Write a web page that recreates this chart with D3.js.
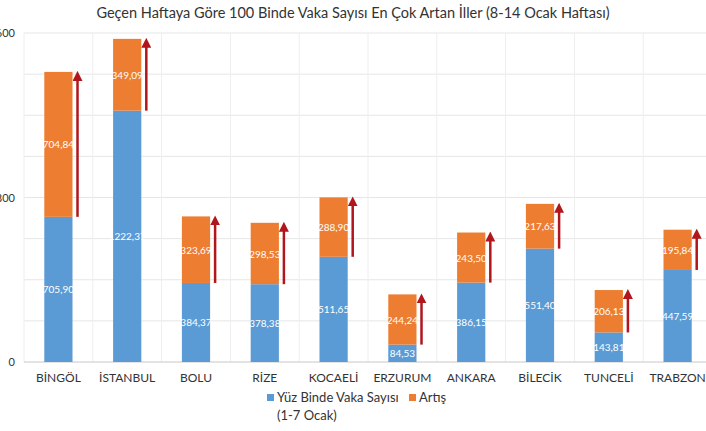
<!DOCTYPE html>
<html><head><meta charset="utf-8">
<script src="https://cdn.jsdelivr.net/npm/d3@7"></script>
<style>body{margin:0;background:#fff}svg{font-family:Lato,"Open Sans",sans-serif}</style>
</head><body><svg id="c" width="706" height="431"></svg>
<script>
const cities = ["BİNGÖL","İSTANBUL","BOLU","RİZE","KOCAELİ","ERZURUM","ANKARA","BİLECİK","TUNCELİ","TRABZON"];
const base = [705.90,1222.37,384.37,378.38,511.65,84.53,386.15,551.40,143.81,447.59];
const increase = [704.84,349.09,323.69,298.53,288.90,244.24,243.50,217.63,206.13,195.84];
const yTicks = [0,800,1600];

const svg = d3.select("#c");
const x = d3.scaleBand().domain(cities).range([24,712]).paddingInner(0.59).paddingOuter(0.295);
const y = d3.scaleLinear().domain([0,1600]).range([362,33]);
const fmt = v => v.toFixed(2).replace(".", ",");

svg.append("defs").append("marker").attr("id","ah").attr("viewBox","0 0 10 10")
  .attr("refX",5).attr("refY",5).attr("markerWidth",4).attr("markerHeight",4).attr("orient","auto")
  .append("path").attr("d","M0,0L10,5L0,10Z").attr("fill","#b0161c");

// grid
const g = svg.append("g");
g.selectAll("line.h").data(d3.range(200,1601,200)).join("line")
  .attr("x1",24).attr("x2",706).attr("y1",d=>y(d)).attr("y2",d=>y(d))
  .attr("stroke","#e6e6e6");
g.selectAll("line.v").data(d3.range(0,11)).join("line")
  .attr("x1",d=>24+d*x.step()).attr("x2",d=>24+d*x.step()).attr("y1",33).attr("y2",362)
  .attr("stroke","#eeeeee");
svg.append("line").attr("x1",24).attr("x2",706).attr("y1",362).attr("y2",362).attr("stroke","#c8c8c8");
svg.selectAll("text.yt").data(yTicks).join("text")
  .attr("x",15).attr("y",d=>y(d)+4).attr("text-anchor","end").attr("font-size",11).attr("fill","#333").text(d=>d);

const bw = x.bandwidth();
svg.selectAll("rect.b").data(cities).join("rect")
  .attr("x",d=>x(d)).attr("width",bw).attr("y",(d,i)=>y(base[i])).attr("height",(d,i)=>362-y(base[i]))
  .attr("fill","#5b9bd5");
svg.selectAll("rect.o").data(cities).join("rect")
  .attr("x",d=>x(d)).attr("width",bw).attr("y",(d,i)=>y(base[i]+increase[i])).attr("height",(d,i)=>y(base[i])-y(base[i]+increase[i]))
  .attr("fill","#ed7d31");
svg.selectAll("line.ar").data(cities).join("line")
  .attr("x1",d=>x(d)+bw+5).attr("x2",d=>x(d)+bw+5)
  .attr("y1",(d,i)=>y(base[i])).attr("y2",(d,i)=>y(base[i]+increase[i])+4)
  .attr("stroke","#b0161c").attr("stroke-width",2.5).attr("marker-end","url(#ah)");

svg.selectAll("text.bl").data(cities).join("text")
  .attr("x",d=>x(d)+bw/2).attr("y",(d,i)=>(y(0)+y(base[i]))/2+4).attr("text-anchor","middle")
  .attr("font-size",10).attr("fill","#fff").text((d,i)=>fmt(base[i]));
svg.selectAll("text.ol").data(cities).join("text")
  .attr("x",d=>x(d)+bw/2).attr("y",(d,i)=>(y(base[i])+y(base[i]+increase[i]))/2+4).attr("text-anchor","middle")
  .attr("font-size",10).attr("fill","#fff").text((d,i)=>fmt(increase[i]));

svg.selectAll("text.xl").data(cities).join("text")
  .attr("x",d=>x(d)+bw/2).attr("y",382).attr("text-anchor","middle")
  .attr("font-size",12).attr("fill","#333").text(d=>d);

svg.append("text").attr("x",353).attr("y",18).attr("text-anchor","middle").attr("font-size",14.5).attr("fill","#333")
  .text("Geçen Haftaya Göre 100 Binde Vaka Sayısı En Çok Artan İller (8-14 Ocak Haftası)");

// legend
svg.append("rect").attr("x",267).attr("y",394).attr("width",7).attr("height",7).attr("fill","#5b9bd5");
svg.append("text").attr("x",277).attr("y",402).attr("font-size",13).attr("fill","#333").text("Yüz Binde Vaka Sayısı");
svg.append("text").attr("x",277).attr("y",420).attr("font-size",13).attr("fill","#333").text("(1-7 Ocak)");
svg.append("rect").attr("x",409).attr("y",394).attr("width",7).attr("height",7).attr("fill","#ed7d31");
svg.append("text").attr("x",419).attr("y",402).attr("font-size",13).attr("fill","#333").text("Artış");
</script></body></html>
